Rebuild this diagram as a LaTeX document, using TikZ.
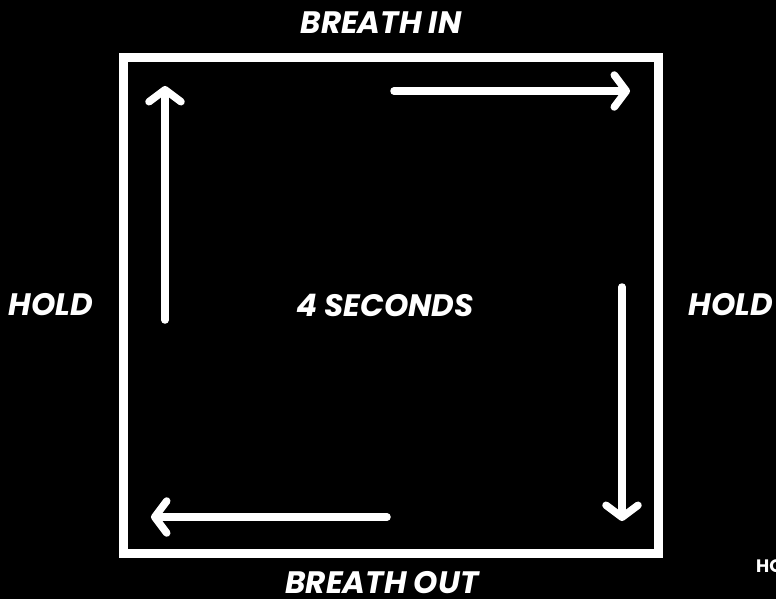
\documentclass[tikz,border=0pt]{standalone}
\usepackage{fontspec}
\setmainfont{Poppins}
\usetikzlibrary{arrows.meta}
\begin{document}
\begin{tikzpicture}[x=1pt,y=-1pt,
  lbl/.style={text=white,font=\fontsize{31}{36}\selectfont\bfseries\itshape,inner sep=0pt},
  frame/.style={draw=white,line width=9pt},
  flow/.style={draw=white,line width=7.5pt,line cap=round,
    -{Straight Barb[length=12pt,width=32pt,line width=7.5pt,round]}}]
\fill[black] (0,0) rectangle (776,599);
\clip (0,0) rectangle (776,599);
\useasboundingbox (0,0) rectangle (776,599);
\node[frame,minimum width=535pt,minimum height=495pt,inner sep=0pt] (box) at (390.5,305.5) {};
\node[lbl] (top) at (381,23) {BREATH IN};
\node[lbl] (bot) at (382,583) {BREATH OUT};
\node[lbl] (left) at (51,305) {HOLD};
\node[lbl] (right) at (731,305) {HOLD};
\node[lbl] (mid) at (385,305) {4 SECONDS};
\node[text=white,draw=gray,font=\fontsize{18}{20}\selectfont\bfseries,anchor=west,inner sep=0pt,draw=none] (wm) at (756,566) {HO};
\coordinate (u1) at (165,320);
\coordinate (u2) at (165,86);
\coordinate (r1) at (394,91);
\coordinate (r2) at (630,91);
\coordinate (d1) at (622,287);
\coordinate (d2) at (622,521);
\coordinate (l1) at (387,517);
\coordinate (l2) at (151,517);
\draw[flow] (u1) -- (u2);
\draw[flow] (r1) -- (r2);
\draw[flow] (d1) -- (d2);
\draw[flow] (l1) -- (l2);
\end{tikzpicture}
\end{document}
